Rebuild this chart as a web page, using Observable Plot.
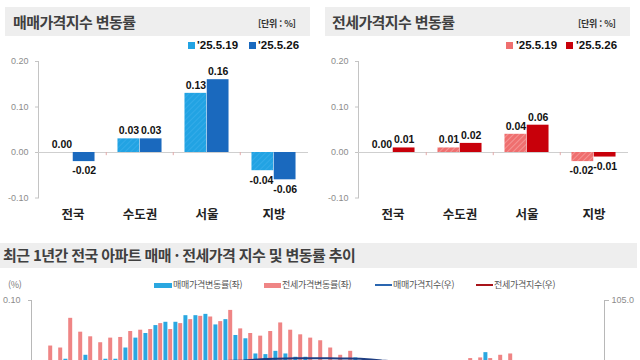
<!DOCTYPE html>
<html lang="ko">
<head>
<meta charset="utf-8">
<script src="https://cdn.jsdelivr.net/npm/d3@7"></script>
<script src="https://cdn.jsdelivr.net/npm/@observablehq/plot@0.6"></script>
<style>
  html, body { margin:0; padding:0; background:#fff; }
  body { width:640px; height:360px; overflow:hidden; position:relative; font-family:"Noto Sans CJK KR", sans-serif; }
  .abs { position:absolute; }
  .tbox { position:absolute; background:#eeeeee; }
  .ttl { position:absolute; font-size:15px; font-weight:bold; color:#404040; letter-spacing:-0.6px; white-space:nowrap; line-height:20px; }
  .unit { position:absolute; font-size:9px; font-weight:bold; color:#333; white-space:nowrap; line-height:12px; letter-spacing:-0.3px; }
  .lg { position:absolute; font-family:"Liberation Sans", Arial, sans-serif; font-size:11.5px; font-weight:bold; color:#111; line-height:13px; white-space:nowrap; }
  .sq { position:absolute; width:7px; height:7px; }
  .bl { position:absolute; font-size:9px; color:#555; line-height:12px; white-space:nowrap; letter-spacing:-0.3px; }
  .chart { position:absolute; }
  .chart svg { overflow:visible; }
</style>
</head>
<body>
<svg width="0" height="0" style="position:absolute">
  <defs>
    <pattern id="hatchBlue" width="4" height="4" patternUnits="userSpaceOnUse" patternTransform="rotate(45)">
      <rect width="4" height="4" fill="#22a3e3"></rect>
      <line x1="0" y1="0" x2="0" y2="4" stroke="#3fb0ec" stroke-width="1.2"></line>
    </pattern>
    <pattern id="hatchRed" width="4" height="4" patternUnits="userSpaceOnUse" patternTransform="rotate(45)">
      <rect width="4" height="4" fill="#ef6f6f"></rect>
      <line x1="0" y1="0" x2="0" y2="4" stroke="#f7a9a9" stroke-width="1.3"></line>
    </pattern>
  </defs>
</svg>

<!-- top-left panel header -->
<div class="tbox" style="left:5px;top:7px;width:305px;height:29px;"></div>
<div class="ttl" style="left:13px;top:12px;" id="title1"></div>
<div class="unit" style="left:258px;top:18px;" id="unit1"></div>
<!-- top-right panel header -->
<div class="tbox" style="left:325px;top:7px;width:305px;height:29px;"></div>
<div class="ttl" style="left:332px;top:12px;" id="title2"></div>
<div class="unit" style="left:578px;top:18px;" id="unit2"></div>

<!-- legends -->
<div class="sq" style="left:188px;top:42px;" id="sq1a"></div>
<div class="lg" style="left:197px;top:39px;" id="lg1a"></div>
<div class="sq" style="left:249px;top:42px;" id="sq1b"></div>
<div class="lg" style="left:258px;top:39px;" id="lg1b"></div>

<div class="sq" style="left:506px;top:42px;" id="sq2a"></div>
<div class="lg" style="left:516px;top:39px;" id="lg2a"></div>
<div class="sq" style="left:566px;top:42px;" id="sq2b"></div>
<div class="lg" style="left:576px;top:39px;" id="lg2b"></div>

<div class="chart" id="c1" style="left:0px;top:50px;"></div>
<div class="chart" id="c2" style="left:320px;top:50px;"></div>

<!-- bottom header -->
<div class="tbox" style="left:0px;top:243px;width:637px;height:25px;"></div>
<div class="ttl" style="left:3px;top:245px;" id="title3"></div>

<div class="bl" style="left:8px;top:279px;color:#777;">(%)</div>
<div class="abs" style="left:154px;top:283px;width:18px;height:5px;" id="bk1"></div>
<div class="bl" style="left:173px;top:279px;" id="bt1"></div>
<div class="abs" style="left:264px;top:283px;width:17px;height:5px;" id="bk2"></div>
<div class="bl" style="left:282px;top:279px;" id="bt2"></div>
<div class="abs" style="left:375px;top:284px;width:17px;height:2px;" id="bk3"></div>
<div class="bl" style="left:393px;top:279px;" id="bt3"></div>
<div class="abs" style="left:476px;top:284px;width:17px;height:2px;" id="bk4"></div>
<div class="bl" style="left:494px;top:279px;" id="bt4"></div>

<div class="chart" id="c3" style="left:0px;top:290px;"></div>
<div class="chart" id="c4" style="left:0px;top:290px;"></div>

<script>
// ---------- data ----------
const titleSale = "매매가격지수 변동률";
const titleJeonse = "전세가격지수 변동률";
const unitLabel = "[단위 : %]";
const weekLabels = ["'25.5.19", "'25.5.26"];
const categories = ["전국", "수도권", "서울", "지방"];
const saleWeek1 = [0.00, 0.03, 0.13, -0.04];
const saleWeek2 = [-0.02, 0.03, 0.16, -0.06];
const jeonseWeek1 = [0.00, 0.01, 0.04, -0.02];
const jeonseWeek2 = [0.01, 0.02, 0.06, -0.01];
const topTicks = [-0.1, 0.0, 0.1, 0.2];

const titleTrend = "최근 1년간 전국 아파트 매매 · 전세가격 지수 및 변동률 추이";
const trendLegend = ["매매가격변동률(좌)", "전세가격변동률(좌)", "매매가격지수(우)", "전세가격지수(우)"];
// weekly change rates (%), 2024.5.13 ~ 2025.5.26
const saleRate = [-0.01, -0.01, 0.011, 0.00, 0.017, 0.00, 0.011, 0.011, 0.028, 0.043,
  0.050, 0.062, 0.067, 0.067, 0.077, 0.077, 0.079, 0.063, 0.071, 0.047,
  0.042, 0.019, 0.018, 0.023, 0.019, 0.014, 0.014, 0.00, -0.01, -0.01,
  -0.01, 0.013, -0.01, -0.02, -0.02, -0.03, -0.02, -0.02, -0.02, -0.01,
  -0.01, -0.01, 0.00, 0.00, 0.021, 0.00, -0.01, -0.01, -0.01, -0.01,
  -0.01, -0.01, 0.00, 0.00, -0.02];
const jeonseRate = [0.031, 0.028, 0.073, 0.052, 0.045, 0.036, 0.043, 0.044, 0.053, 0.055,
  0.056, 0.065, 0.056, 0.065, 0.071, 0.076, 0.075, 0.068, 0.085, 0.057,
  0.050, 0.046, 0.053, 0.066, 0.055, 0.048, 0.043, 0.039, 0.028, 0.017,
  0.023, 0.00, 0.00, 0.00, 0.00, 0.00, 0.00, 0.00, 0.00, 0.00,
  0.00, 0.00, 0.012, 0.013, 0.012, 0.017, 0.019, 0.00, 0.00, 0.00,
  0.00, 0.00, 0.00, 0.00, 0.00];
// price indices (right axis)
const saleIndex = [99.78, 99.78, 99.79, 99.79, 99.80, 99.80, 99.81, 99.82, 99.85, 99.89,
  99.94, 100.00, 100.07, 100.14, 100.21, 100.28, 100.34, 100.38, 100.41, 100.43,
  100.45, 100.52, 100.56, 100.59, 100.61, 100.62, 100.63, 100.63, 100.62, 100.61,
  100.60, 100.58, 100.53, 100.45, 100.40, 100.36, 100.33, 100.30, 100.28, 100.26,
  100.25, 100.25, 100.26, 100.27, 100.29, 100.29, 100.28, 100.27, 100.26, 100.25,
  100.24, 100.23, 100.23, 100.23, 100.21];
const jeonseIndex = [98.70, 98.73, 98.80, 98.85, 98.89, 98.93, 98.97, 99.01, 99.06, 99.12,
  99.17, 99.24, 99.29, 99.35, 99.42, 99.49, 99.57, 99.63, 99.71, 99.77,
  99.82, 99.86, 99.91, 99.97, 100.02, 100.07, 100.11, 100.15, 100.18, 100.19,
  100.21, 100.21, 100.21, 100.21, 100.21, 100.21, 100.21, 100.21, 100.21, 100.21,
  100.21, 100.21, 100.22, 100.24, 100.25, 100.27, 100.29, 100.29, 100.29, 100.29,
  100.29, 100.29, 100.29, 100.29, 100.30];
const leftTicks = [0.1];
const rightTicks = [105];

// ---------- header texts ----------
document.getElementById("title1").textContent = titleSale;
document.getElementById("title2").textContent = titleJeonse;
document.getElementById("title3").textContent = titleTrend;
document.getElementById("unit1").textContent = unitLabel;
document.getElementById("unit2").textContent = unitLabel;
document.getElementById("lg1a").textContent = weekLabels[0];
document.getElementById("lg1b").textContent = weekLabels[1];
document.getElementById("lg2a").textContent = weekLabels[0];
document.getElementById("lg2b").textContent = weekLabels[1];
["bt1","bt2","bt3","bt4"].forEach((id, i) => document.getElementById(id).textContent = trendLegend[i]);

const C = {
  saleLight: "url(#hatchBlue)", saleDark: "#1a69be",
  jeonseLight: "url(#hatchRed)", jeonseDark: "#c8000a",
  trendSale: "#2aa7e0", trendJeonse: "#ef8585",
  idxSale: "#203f82", idxJeonse: "#a8141a"
};
document.getElementById("sq1a").style.background = "#22a3e3";
document.getElementById("sq1b").style.background = C.saleDark;
document.getElementById("sq2a").style.background = "#ef6f6f";
document.getElementById("sq2b").style.background = C.jeonseDark;
document.getElementById("bk1").style.background = C.trendSale;
document.getElementById("bk2").style.background = C.trendJeonse;
document.getElementById("bk3").style.background = "#2a66b0";
document.getElementById("bk4").style.background = C.idxJeonse;

const fmt2 = d => d.toFixed(2);
const latin = "'Liberation Sans', Arial, sans-serif";
const kor = "'Noto Sans CJK KR', sans-serif";

// ---------- top charts ----------
function topChart(v1, v2, c1, c2) {
  const width = 320, mL = 38, mR = 12;
  const band = (width - mL - mR) / categories.length;
  const barW = band * 0.33;
  const outer = (band - 2 * barW) / 2;
  const d1 = categories.map((c, i) => ({cat: c, v: v1[i]}));
  const d2 = categories.map((c, i) => ({cat: c, v: v2[i]}));
  const lab = {fontSize: 10.5, fontWeight: "bold", fill: "#111", fontFamily: latin};
  return Plot.plot({
    width, height: 180, marginTop: 11, marginBottom: 32.5, marginLeft: mL, marginRight: mR,
    style: {fontFamily: latin, fontSize: "9px", background: "transparent", overflow: "visible"},
    x: {domain: categories, padding: 0, label: null},
    y: {domain: [-0.1, 0.2], label: null},
    marks: [
      Plot.frame({anchor: "left", stroke: "#c4c4c4"}),
      Plot.axisY({ticks: topTicks, tickFormat: fmt2, tickSize: 3, tickPadding: 7, stroke: "#c4c4c4", fill: "#8c8c8c", fontSize: 9, label: null}),
      Plot.ruleY([0], {stroke: "#cfcfcf"}),
      Plot.ruleX(categories.slice(1), {x: d => d, y1: 0, y2: -0.007, dx: -band / 2, stroke: "#e3a9a9"}),
      Plot.barY(d1, {x: "cat", y: "v", fill: c1, insetLeft: outer, insetRight: outer + barW}),
      Plot.barY(d2, {x: "cat", y: "v", fill: c2, insetLeft: outer + barW, insetRight: outer}),
      Plot.text(d1.filter(d => d.v >= 0), {x: "cat", y: "v", text: d => fmt2(d.v), dx: -barW / 2, dy: -8, ...lab}),
      Plot.text(d1.filter(d => d.v < 0), {x: "cat", y: "v", text: d => fmt2(d.v), dx: -barW / 2 - 1.5, dy: 9.5, ...lab}),
      Plot.text(d2.filter(d => d.v >= 0), {x: "cat", y: "v", text: d => fmt2(d.v), dx: barW / 2, dy: -8, ...lab}),
      Plot.text(d2.filter(d => d.v < 0), {x: "cat", y: "v", text: d => fmt2(d.v), dx: barW / 2, dy: 9.5, ...lab}),
      Plot.axisX({tickSize: 0, tickPadding: 12, fontSize: 12.5, fontWeight: "bold", fill: "#222", fontFamily: kor, label: null})
    ]
  });
}
document.getElementById("c1").appendChild(topChart(saleWeek1, saleWeek2, C.saleLight, C.saleDark));
document.getElementById("c2").appendChild(topChart(jeonseWeek1, jeonseWeek2, C.jeonseLight, C.jeonseDark));

// ---------- bottom trend chart (cropped at the page edge) ----------
const weeks = d3.utcMonday.range(new Date(Date.UTC(2024, 4, 13)), new Date(Date.UTC(2025, 4, 27))).map(d3.utcFormat("%y.%m.%d"));
const sRate = weeks.map((w, i) => ({w, v: saleRate[i]}));
const jRate = weeks.map((w, i) => ({w, v: jeonseRate[i]}));
const sIdx = weeks.map((w, i) => ({w, v: saleIndex[i]}));
const jIdx = weeks.map((w, i) => ({w, v: jeonseIndex[i]}));

const BW = 640, BH = 160, bL = 31, bR = 36, bT = 10, bB = 18;
const wBand = (BW - bL - bR) / weeks.length;
const bars = Plot.plot({
  width: BW, height: BH, marginLeft: bL, marginRight: bR, marginTop: bT, marginBottom: bB,
  style: {fontFamily: latin, fontSize: "9px", background: "transparent", overflow: "visible"},
  x: {domain: weeks, padding: 0, axis: null},
  y: {domain: [-0.1, 0.1], label: null},
  marks: [
    Plot.frame({anchor: "left", stroke: "#b8b8b8"}),
    Plot.axisY({ticks: leftTicks, tickFormat: fmt2, tickSize: 3, tickPadding: 8, stroke: "#b8b8b8", fill: "#8c8c8c", fontSize: 9, label: null}),
    Plot.barY(sRate, {x: "w", y: "v", fill: C.trendSale, insetLeft: wBand / 2 - 4.8, insetRight: wBand / 2 + 0.4}),
    Plot.barY(jRate, {x: "w", y: "v", fill: C.trendJeonse, insetLeft: wBand / 2, insetRight: wBand / 2 - 4.4})
  ]
});
document.getElementById("c3").appendChild(bars);

const lines = Plot.plot({
  width: BW, height: BH, marginLeft: bL, marginRight: bR, marginTop: bT, marginBottom: bB,
  style: {fontFamily: latin, fontSize: "9px", background: "transparent", overflow: "visible"},
  x: {domain: weeks, padding: 0, axis: null},
  y: {domain: [95, 105], label: null},
  marks: [
    Plot.frame({anchor: "right", stroke: "#b8b8b8"}),
    Plot.axisY({anchor: "right", ticks: rightTicks, tickFormat: d => d.toFixed(1), tickSize: 4, tickPadding: 3, stroke: "#b8b8b8", fill: "#8c8c8c", fontSize: 9, label: null}),
    Plot.lineY(jIdx, {x: "w", y: "v", stroke: C.idxJeonse, strokeWidth: 2}),
    Plot.lineY(sIdx, {x: "w", y: "v", stroke: C.idxSale, strokeWidth: 2})
  ]
});
document.getElementById("c4").appendChild(lines);
</script>
</body>
</html>
